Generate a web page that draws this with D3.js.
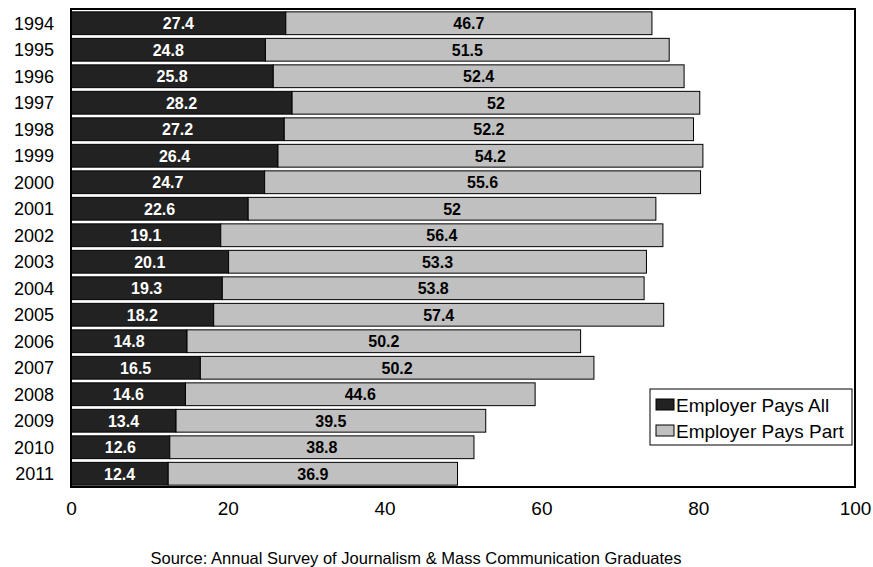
<!DOCTYPE html>
<html><head><meta charset="utf-8">
<script src="https://cdn.jsdelivr.net/npm/d3@7"></script>
<style>body{margin:0;background:#fff;}svg{display:block;font-family:Arial,"Liberation Sans",sans-serif;}</style>
</head><body><svg id="c" width="873" height="567"></svg>
<script>
const years = ["1994","1995","1996","1997","1998","1999","2000","2001","2002","2003","2004","2005","2006","2007","2008","2009","2010","2011"];
const paysAll = [27.4,24.8,25.8,28.2,27.2,26.4,24.7,22.6,19.1,20.1,19.3,18.2,14.8,16.5,14.6,13.4,12.6,12.4];
const paysPart = [46.7,51.5,52.4,52,52.2,54.2,55.6,52,56.4,53.3,53.8,57.4,50.2,50.2,44.6,39.5,38.8,36.9];
const xTicks = [0,20,40,60,80,100];
const seriesNames = ["Employer Pays All","Employer Pays Part"];
const colors = ["#222222","#c0c0c0"];

const svg = d3.select("#c");
const L=71, R=855, T=9, B=487;
const x = d3.scaleLinear().domain([0,100]).range([L,R]);
const y = d3.scaleBand().domain(years).range([T+1,B]).paddingInner(0.14).paddingOuter(0.07);

const g = svg.append("g");
years.forEach((yr,i)=>{
  const a = paysAll[i], p = paysPart[i];
  g.append("rect").attr("x",x(0)).attr("y",y(yr)).attr("width",x(a)-x(0)).attr("height",y.bandwidth())
    .attr("fill",colors[0]).attr("stroke","#000").attr("stroke-width",1);
  g.append("rect").attr("x",x(a)).attr("y",y(yr)).attr("width",x(a+p)-x(a)).attr("height",y.bandwidth())
    .attr("fill",colors[1]).attr("stroke","#000").attr("stroke-width",1);
  g.append("text").attr("x",(x(0)+x(a))/2).attr("y",y(yr)+y.bandwidth()/2).attr("dy","0.36em")
    .attr("text-anchor","middle").attr("fill","#fff").attr("font-weight","bold").attr("font-size",16).text(a);
  g.append("text").attr("x",(x(a)+x(a+p))/2).attr("y",y(yr)+y.bandwidth()/2).attr("dy","0.36em")
    .attr("text-anchor","middle").attr("fill","#000").attr("font-weight","bold").attr("font-size",16).text(p);
  svg.append("text").attr("x",54).attr("y",y(yr)+y.bandwidth()/2).attr("dy","0.36em")
    .attr("text-anchor","end").attr("font-size",18).attr("fill","#000").text(yr);
});

// frame
svg.append("rect").attr("x",L).attr("y",T).attr("width",R-L).attr("height",B-T)
  .attr("fill","none").attr("stroke","#000").attr("stroke-width",2);

// x axis labels
const xa = svg.append("g").attr("transform",`translate(0,${B})`)
  .call(d3.axisBottom(x).tickValues(xTicks).tickSize(0).tickPadding(15).tickFormat(d3.format("d")));
xa.select(".domain").remove();
xa.selectAll("text").attr("font-size",19).attr("font-family","Arial,'Liberation Sans',sans-serif").attr("fill","#000");

// legend
const lg = svg.append("g");
lg.append("rect").attr("x",650).attr("y",389).attr("width",202).attr("height",56)
  .attr("fill","#fff").attr("stroke","#000").attr("stroke-width",1);
seriesNames.forEach((n,i)=>{
  const cy = 405 + i*26;
  lg.append("rect").attr("x",656).attr("y",cy-6).attr("width",18).attr("height",11)
    .attr("fill",colors[i]).attr("stroke","#000").attr("stroke-width",1);
  lg.append("text").attr("x",676).attr("y",cy).attr("dy","0.36em").attr("font-size",19).attr("fill","#000").text(n);
});

svg.append("text").attr("x",416).attr("y",564).attr("text-anchor","middle").attr("font-size",16.5).attr("fill","#000")
  .text("Source:  Annual Survey of Journalism & Mass Communication Graduates");
</script></body></html>
